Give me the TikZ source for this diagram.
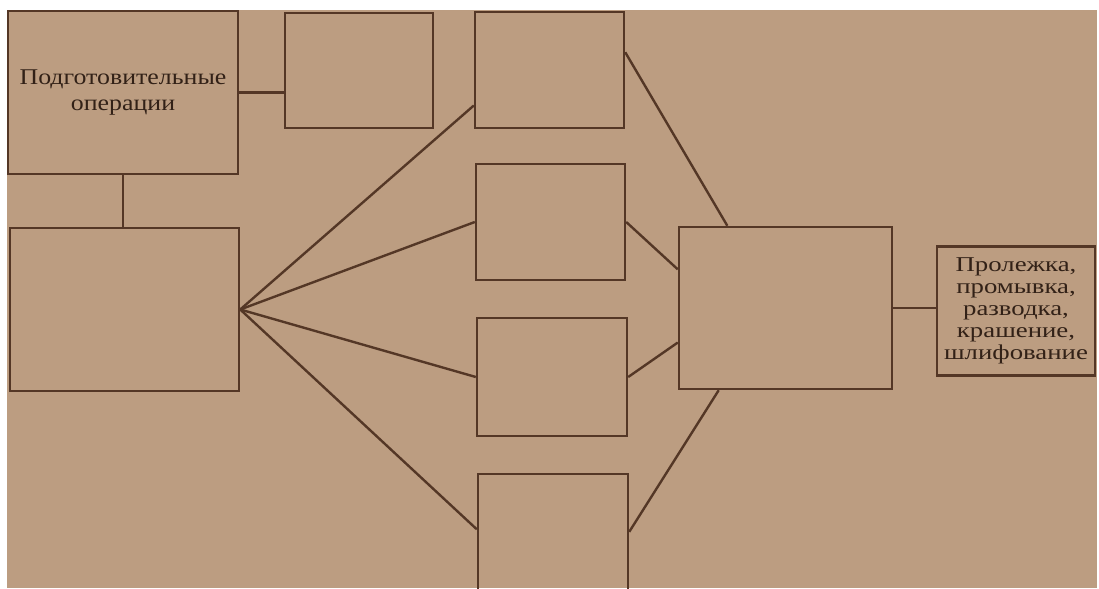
\documentclass[tikz,border=0pt]{standalone}
\usepackage{fontspec}
\setmainfont{Liberation Serif}
\newfontfamily\shirokij[FakeStretch=1.15]{Liberation Serif}
\newfontfamily\shirokijj[FakeStretch=1.27]{Liberation Serif}
\usetikzlibrary{calc}
\definecolor{paper}{RGB}{188,157,129}
\definecolor{ink}{RGB}{84,55,38}

\begin{document}
\begin{tikzpicture}[x=0.025cm, y=-0.025cm,
        blok/.style={draw=ink, line width=1.7pt, inner sep=2pt, align=center, text=ink!60!black},
        svyaz/.style={draw=ink, line width=1.7pt}]
    \useasboundingbox (0,0) rectangle (1099,589);
    \fill[paper] (7,10) rectangle (1097,588);

    % left column
    \node[blok, minimum width=5.75cm, minimum height=4.075cm,
          font=\shirokij\fontsize{16}{18}\selectfont] (podg) at (123,92.5) {Подготовительные\\операции};
    \node[blok, minimum width=3.7cm, minimum height=2.875cm] (pust) at (359,70.5) {};
    \node[blok, minimum width=5.725cm, minimum height=4.075cm] (osn) at (124.5,309.5) {};

    % middle column
    \node[blok, minimum width=3.725cm, minimum height=2.9cm] (op1) at (549.5,70) {};
    \node[blok, minimum width=3.725cm, minimum height=2.9cm] (op2) at (550.5,222) {};
    \node[blok, minimum width=3.75cm, minimum height=2.95cm] (op3) at (552,377) {};
    \node[blok, minimum width=3.75cm, minimum height=3.15cm] (op4) at (553,537) {};

    % right column
    \node[blok, minimum width=5.325cm, minimum height=4.05cm] (sbor) at (785.5,308) {};
    \node[blok, minimum width=3.95cm, minimum height=3.225cm,
          font=\shirokijj\fontsize{15}{15.6}\selectfont] (otd) at (1016,311)
          {Пролежка,\\промывка,\\разводка,\\крашение,\\шлифование};

    \draw[svyaz] (podg.east) -- (podg.east -| pust.west);
    \draw[svyaz] (podg.south) -- (podg.south |- osn.north);

    \draw[svyaz] (osn.east) -- ($(op1.north west)!0.8!(op1.south west)$);
    \draw[svyaz] (osn.east) -- (op2.west);
    \draw[svyaz] (osn.east) -- (op3.west);
    \draw[svyaz] (osn.east) -- ($(op4.north west)!0.44!(op4.south west)$);

    \draw[svyaz] ($(op1.north east)!0.35!(op1.south east)$) -- ($(sbor.north west)!0.23!(sbor.north east)$);
    \draw[svyaz] (op2.east) -- ($(sbor.north west)!0.265!(sbor.south west)$);
    \draw[svyaz] (op3.east) -- ($(sbor.north west)!0.71!(sbor.south west)$);
    \draw[svyaz] ($(op4.north east)!0.46!(op4.south east)$) -- ($(sbor.south west)!0.19!(sbor.south east)$);

    \draw[svyaz] (sbor.east) -- (sbor.east -| otd.west);
\end{tikzpicture}
\end{document}
